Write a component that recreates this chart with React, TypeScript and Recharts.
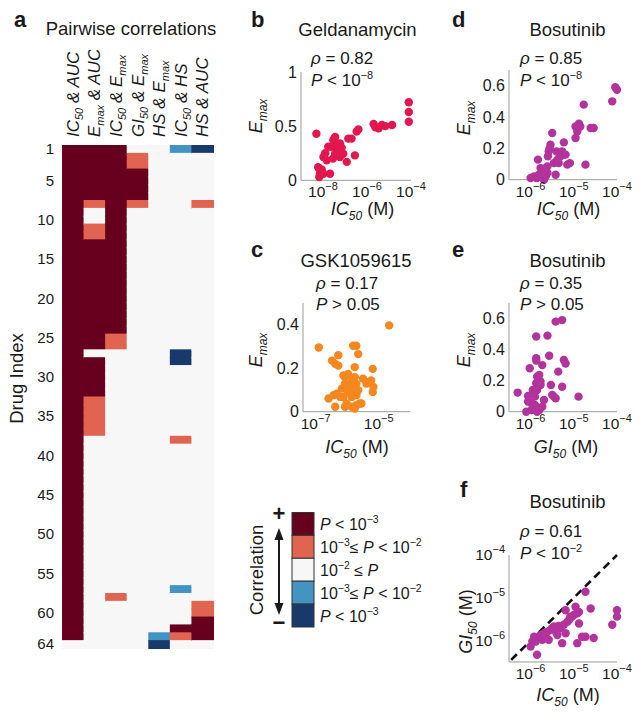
import { ScatterChart, Scatter, XAxis, YAxis, ReferenceLine } from 'recharts'

const FONT = '"Liberation Sans", Arial, Helvetica, sans-serif'
const INK = '#1a1a1a'
const AXIS = '#9a9a9a'

// ---- a: pairwise correlation map ----
const pairFirst = ['IC', 'E', 'IC', 'GI', 'HS', 'IC', 'HS']
const pairFirstSub = ['50', 'max', '50', '50', '', '50', '']
const pairSecond = ['AUC', 'AUC', 'E', 'E', 'E', 'HS', 'AUC']
const pairSecondSub = ['', '', 'max', 'max', 'max', '', '']
const drugCount = 64
const drugTicks = [1, 5, 10, 15, 20, 25, 30, 35, 40, 45, 50, 55, 60, 64]

// 2: + P<1e-3, 1: + 1e-3<=P<1e-2, 0: n.s., -1 / -2: same for negative correlation
const levelColor: Record<string, string> = {
  '2': '#67001f',
  '1': '#e0644f',
  '0': '#f7f7f7',
  '-1': '#4393c3',
  '-2': '#173a6b',
}
const legendLevels = [2, 1, 0, -1, -2]

// [first drug, last drug, level] for each pair column, rest is level 0
const heatRuns: number[][][] = [
  [[1, 63, 2]],
  [[1, 7, 2], [8, 8, 1], [11, 12, 1], [13, 26, 2], [28, 32, 2], [33, 37, 1]],
  [[1, 24, 2], [25, 26, 1], [58, 58, 1]],
  [[2, 3, 1], [4, 7, 2], [8, 8, 1]],
  [[63, 63, -1], [64, 64, -2]],
  [[1, 1, -1], [27, 28, -2], [38, 38, 1], [57, 57, -1], [62, 62, 2], [63, 63, 1]],
  [[1, 1, -2], [8, 8, 1], [59, 60, 1], [61, 63, 2]],
]

// ---- b: Geldanamycin, log10 IC50 vs Emax ----
const geldLogIC50 = [
  -8.3, -8.22, -8.14, -8.17, -8.06, -7.98, -7.98, -7.83, -7.68, -7.76, -7.6, -7.53, -7.45, -7.45,
  -7.38, -7.3, -7.23, -7.23, -7.08, -6.92, -6.85, -6.7, -6.55, -6.47, -6.39, -5.7, -5.62, -5.47,
  -5.32, -5.17, -4.86, -4.1, -4.1, -4.1, -7.5, -7.35, -7.15, -8.14, -7.9, -7.55,
]
const geldEmax = [
  0.43, 0.12, 0.06, 0.03, 0.1, 0.215, 0.06, 0.185, 0.06, 0.31, 0.31, 0.37, 0.4, 0.245,
  0.31, 0.28, 0.34, 0.215, 0.245, 0.17, 0.385, 0.385, 0.23, 0.45, 0.47, 0.52, 0.49, 0.48,
  0.51, 0.5, 0.51, 0.72, 0.63, 0.54, 0.38, 0.33, 0.3, 0.1, 0.25, 0.2,
]

// ---- c: GSK1059615 ----
const gskLogIC50 = [
  -6.9, -6.48, -6.38, -6.28, -6.28, -6.59, -6.43, -6.38, -6.33, -6.22, -6.17, -6.12, -6.07, -6.07,
  -6.02, -5.97, -5.91, -5.86, -5.86, -5.81, -5.81, -5.81, -5.71, -5.65, -5.76, -5.76, -5.71, -5.71,
  -5.65, -5.6, -5.55, -5.5, -5.39, -5.34, -5.24, -5.19, -5.19, -5.17, -5.86, -5.76, -5.71, -6.07,
  -6.02, -4.67, -5.97, -6.12,
]
const gskEmax = [
  0.295, 0.235, 0.22, 0.26, 0.212, 0.061, 0.076, 0.023, 0.083, 0.068, 0.106, 0.167, 0.129, 0.159,
  0.114, 0.091, 0.106, 0.136, 0.068, 0.099, 0.152, 0.303, 0.303, 0.265, 0.205, 0.159, 0.129, 0.076,
  0.099, 0.038, 0.038, 0.152, 0.129, 0.136, 0.144, 0.091, 0.197, 0.114, 0.023, 0.015, 0.03, 0.023,
  0.038, 0.397, 0.174, 0.068,
]

// ---- d: Bosutinib IC50 vs Emax ----
const bosLogIC50 = [
  -6.0, -5.92, -5.86, -5.81, -5.77, -5.69, -5.65, -5.61, -5.83, -5.77, -5.73, -5.69, -5.65, -5.61,
  -5.58, -5.6, -5.54, -5.5, -5.56, -5.46, -5.42, -5.4, -5.38, -5.35, -5.31, -5.27, -5.23, -5.19,
  -5.15, -5.09, -5.23, -4.96, -4.92, -4.88, -4.85, -4.96, -4.61, -4.54, -4.77, -4.73, -4.11, -4.04,
  -4.0,
]
const bosEmax = [
  0.011, 0.021, 0.011, 0.032, 0.021, 0.0, 0.021, 0.043, 0.128, 0.074, 0.064, 0.043, 0.074, 0.085,
  0.18, 0.149, 0.223, 0.298, 0.2, 0.106, 0.032, 0.18, 0.128, 0.106, 0.149, 0.18, 0.16, 0.16,
  0.096, 0.106, 0.238, 0.266, 0.308, 0.357, 0.34, 0.34, 0.33, 0.33, 0.479, 0.096, 0.5, 0.59,
  0.574,
]

// ---- e: Bosutinib GI50 vs Emax ----
const bosLogGI50 = [
  -6.3, -6.1, -6.06, -6.06, -5.98, -6.02, -5.87, -5.87, -5.87, -5.98, -5.9, -5.85, -5.8, -5.85,
  -5.87, -5.85, -5.8, -5.77, -5.77, -5.95, -5.9, -5.69, -5.73, -5.73, -5.61, -5.57, -5.53, -5.5,
  -5.46, -5.42, -5.42, -5.27, -5.23, -5.19, -5.36, -5.27, -4.89,
]
const bosEmaxGI = [
  0.123, 0.0, 0.065, 0.101, 0.011, 0.28, 0.484, 0.344, 0.33, 0.054, 0.043, 0.0, 0.011, 0.14,
  0.183, 0.226, 0.237, 0.194, 0.172, 0.14, 0.097, 0.075, 0.032, 0.3, 0.49, 0.36, 0.172, 0.108,
  0.097, 0.086, 0.58, 0.59, 0.333, 0.31, 0.258, 0.161, 0.097,
]

// ---- f: Bosutinib IC50 vs GI50 ----
const bosPairIC50 = [
  -6.0, -5.96, -5.85, -5.92, -5.88, -5.81, -5.77, -5.73, -5.69, -5.65, -5.61, -5.58, -5.54, -5.5,
  -5.46, -5.42, -5.38, -5.35, -5.31, -5.27, -5.19, -5.23, -5.15, -5.11, -5.08, -5.04, -5.0, -4.92,
  -4.88, -4.96, -4.73, -4.61, -4.92, -4.88, -4.81, -4.73, -4.54, -4.11, -4.0, -4.0, -5.19,
]
const bosPairGI50 = [
  -6.14, -6.02, -6.33, -5.91, -6.02, -5.94, -5.87, -5.98, -5.83, -5.91, -5.79, -5.98, -5.75, -5.71,
  -5.67, -5.79, -5.87, -5.66, -5.71, -6.06, -5.83, -5.63, -5.56, -5.52, -5.44, -5.44, -5.4, -5.36,
  -5.33, -5.21, -4.86, -5.25, -6.06, -5.6, -5.91, -5.91, -5.94, -5.63, -5.29, -5.44, -5.29,
]
const unityLine = [-6.45, -4]

const heatCells = heatRuns.flatMap((runs, col) =>
  Array.from({ length: drugCount }, (_, k) => {
    const drug = k + 1
    const run = runs.find((r) => drug >= r[0] && drug <= r[1])
    return { col, drug, level: run ? run[2] : 0 }
  })
)

function PairTick(props: any) {
  const { x, y, payload } = props
  const i = payload.value
  return (
    <text transform={`translate(${x + 6},${y}) rotate(-90)`} fontSize={17} fontStyle="italic" fill={INK}>
      {pairFirst[i]}
      {pairFirstSub[i] && <tspan dy={4} fontSize={11}>{pairFirstSub[i]}</tspan>}
      <tspan dy={pairFirstSub[i] ? -4 : 0}>{' & ' + pairSecond[i]}</tspan>
      {pairSecondSub[i] && <tspan dy={4} fontSize={11}>{pairSecondSub[i]}</tspan>}
    </text>
  )
}

function PowTick(props: any) {
  const { x, y, payload, textAnchor, vertical } = props
  const exp = Math.round(payload.value)
  return (
    <text x={x} y={y} dy={vertical ? '0.35em' : '0.71em'} textAnchor={textAnchor} fontSize={15.5} fill={INK}>
      10<tspan dy={-7} fontSize={11}>{'\u2212' + Math.abs(exp)}</tspan>
    </text>
  )
}

function Heatmap() {
  const box = { x: 62, y: 145, w: 151, h: 503 }
  const cw = box.w / pairFirst.length
  const ch = box.h / drugCount
  const top = 95
  const left = 40
  const bottom = 12
  return (
    <div style={{ position: 'absolute', left: box.x - left, top: box.y - top }}>
      <ScatterChart width={left + box.w + 2} height={top + box.h + bottom} margin={{ top: 0, right: 2, bottom, left: 0 }}>
        <XAxis
          xAxisId="pairs"
          orientation="top"
          type="number"
          dataKey="col"
          domain={[-0.5, 6.5]}
          ticks={[0, 1, 2, 3, 4, 5, 6]}
          interval={0}
          height={top}
          tick={<PairTick />}
          tickLine={false}
          axisLine={false}
        />
        <YAxis
          yAxisId="drugs"
          type="number"
          dataKey="drug"
          domain={[0.5, drugCount + 0.5]}
          reversed
          ticks={drugTicks}
          interval={0}
          width={left}
          tickLine={false}
          axisLine={false}
          tick={{ fontSize: 15, fill: INK }}
        />
        <Scatter
          xAxisId="pairs"
          yAxisId="drugs"
          data={heatCells}
          isAnimationActive={false}
          shape={(p: any) => (
            <rect x={p.cx - cw / 2} y={p.cy - ch / 2} width={cw + 1} height={ch + 1} fill={levelColor[String(p.payload.level)]} />
          )}
        />
        <ReferenceLine xAxisId="pairs" yAxisId="drugs" x={6.5} stroke={AXIS} />
        <ReferenceLine xAxisId="pairs" yAxisId="drugs" y={drugCount + 0.5} stroke={AXIS} />
      </ScatterChart>
    </div>
  )
}

type Box = { x: number; y: number; w: number; h: number }

function ScatterPanel({
  box, xs, ys, color, xDomain, yDomain, xTicks, yTicks, logY = false, children,
}: {
  box: Box
  xs: number[]
  ys: number[]
  color: string
  xDomain: number[]
  yDomain: number[]
  xTicks: number[]
  yTicks: number[]
  logY?: boolean
  children?: any
}) {
  const ml = 50
  const mt = 12
  const mr = 24
  const xh = 30
  const data = xs.map((x, i) => ({ x, y: ys[i] }))
  return (
    <div style={{ position: 'absolute', left: box.x - ml, top: box.y - mt }}>
      <ScatterChart width={ml + box.w + mr} height={mt + box.h + xh} margin={{ top: mt, right: mr, bottom: 0, left: 0 }}>
        <XAxis
          type="number"
          dataKey="x"
          domain={xDomain}
          ticks={xTicks}
          interval={0}
          height={xh}
          tick={<PowTick />}
          tickLine={false}
          tickSize={0}
          tickMargin={6}
          axisLine={{ stroke: AXIS }}
        />
        <YAxis
          type="number"
          dataKey="y"
          domain={yDomain}
          ticks={yTicks}
          interval={0}
          width={ml}
          tick={logY ? <PowTick vertical /> : { fontSize: 16, fill: INK }}
          tickLine={false}
          tickSize={0}
          tickMargin={4}
          axisLine={{ stroke: AXIS }}
        />
        <Scatter
          data={data}
          isAnimationActive={false}
          shape={(p: any) => <circle cx={p.cx} cy={p.cy} r={4.2} fill={color} />}
        />
        {children}
      </ScatterChart>
    </div>
  )
}

function EmaxLabel({ x, y }: { x: number; y: number }) {
  return (
    <text transform={`translate(${x},${y}) rotate(-90)`} textAnchor="middle" fontSize={18}>
      <tspan fontStyle="italic">E</tspan>
      <tspan dy={5} fontSize={12} fontStyle="italic">max</tspan>
    </text>
  )
}

function ConcLabel({ x, y, name, rotate = false }: { x: number; y: number; name: string; rotate?: boolean }) {
  return (
    <text transform={`translate(${x},${y})${rotate ? ' rotate(-90)' : ''}`} textAnchor="middle" fontSize={18}>
      <tspan fontStyle="italic">{name}</tspan>
      <tspan dy={5} fontSize={12} fontStyle="italic">50</tspan>
      <tspan dy={-5}> (M)</tspan>
    </text>
  )
}

function Stats({ x, y, rho, rel, exp, value }: { x: number; y: number; rho: string; rel: string; exp?: number; value?: string }) {
  return (
    <g fontSize={17}>
      <text x={x} y={y}>
        <tspan fontStyle="italic">ρ</tspan> = {rho}
      </text>
      <text x={x} y={y + 21.5}>
        <tspan fontStyle="italic">P</tspan>
        {' ' + rel + ' '}
        {exp !== undefined ? (
          <>
            10<tspan dy={-7} fontSize={11}>{'\u2212' + exp}</tspan>
          </>
        ) : (
          value
        )}
      </text>
    </g>
  )
}

const SUP = 7
const supStyle = { fontSize: 10.5 }

const legendLabels = [
  <>
    <tspan fontStyle="italic">P</tspan>{' < 10'}<tspan dy={-SUP} {...supStyle}>−3</tspan>
  </>,
  <>
    10<tspan dy={-SUP} {...supStyle}>−3</tspan>
    <tspan dy={SUP}>≤ </tspan><tspan fontStyle="italic">P</tspan>{' < 10'}<tspan dy={-SUP} {...supStyle}>−2</tspan>
  </>,
  <>
    10<tspan dy={-SUP} {...supStyle}>−2</tspan>
    <tspan dy={SUP}> ≤ </tspan><tspan fontStyle="italic">P</tspan>
  </>,
  <>
    10<tspan dy={-SUP} {...supStyle}>−3</tspan>
    <tspan dy={SUP}>≤ </tspan><tspan fontStyle="italic">P</tspan>{' < 10'}<tspan dy={-SUP} {...supStyle}>−2</tspan>
  </>,
  <>
    <tspan fontStyle="italic">P</tspan>{' < 10'}<tspan dy={-SUP} {...supStyle}>−3</tspan>
  </>,
]

function Overlay() {
  const lgTop = 512.5
  const lgH = 22.9
  return (
    <svg width={644} height={714} style={{ position: 'absolute', left: 0, top: 0, pointerEvents: 'none' }} fill={INK}>
      <g fontSize={22} fontWeight="bold">
        <text x={14} y={27}>a</text>
        <text x={251} y={27}>b</text>
        <text x={452} y={27}>d</text>
        <text x={251} y={257}>c</text>
        <text x={452} y={257}>e</text>
        <text x={460} y={497}>f</text>
      </g>
      <g fontSize={18.5} textAnchor="middle">
        <text x={131} y={35}>Pairwise correlations</text>
        <text x={357.5} y={36}>Geldanamycin</text>
        <text x={567.5} y={36}>Bosutinib</text>
        <text x={356} y={267}>GSK1059615</text>
        <text x={567.5} y={267}>Bosutinib</text>
        <text x={567.5} y={508}>Bosutinib</text>
        <text transform="translate(22.5,378.5) rotate(-90)">Drug Index</text>
      </g>

      <Stats x={311} y={64} rho="0.82" rel="<" exp={8} />
      <Stats x={520} y={64} rho="0.85" rel="<" exp={8} />
      <Stats x={316} y={288.5} rho="0.17" rel=">" value="0.05" />
      <Stats x={520} y={288.5} rho="0.35" rel=">" value="0.05" />
      <Stats x={520} y={537} rho="0.61" rel="<" exp={2} />

      <EmaxLabel x={262} y={116} />
      <EmaxLabel x={470} y={118} />
      <EmaxLabel x={262} y={350} />
      <EmaxLabel x={470} y={350} />
      <ConcLabel x={362.5} y={215} name="IC" />
      <ConcLabel x={568.5} y={215} name="IC" />
      <ConcLabel x={357} y={453} name="IC" />
      <ConcLabel x={566} y={453} name="GI" />
      <ConcLabel x={568} y={701} name="IC" />
      <ConcLabel x={471.5} y={621.5} name="GI" rotate />

      {/* legend */}
      {legendLevels.map((lv, i) => (
        <g key={lv}>
          <rect x={292} y={lgTop + i * lgH} width={22} height={lgH} fill={levelColor[String(lv)]} stroke="#333" strokeWidth={1} />
          <text x={320} y={lgTop + i * lgH + lgH / 2 + 6} fontSize={16}>
            {legendLabels[i]}
          </text>
        </g>
      ))}
      <text x={279} y={521} fontSize={22} fontWeight="bold" textAnchor="middle">+</text>
      <text x={279} y={630} fontSize={22} fontWeight="bold" textAnchor="middle">{'\u2212'}</text>
      <line x1={279} y1={536} x2={279} y2={607} stroke={INK} strokeWidth={2} />
      <polygon points="279,528 274.5,540 283.5,540" />
      <polygon points="279,615 274.5,603 283.5,603" />
      <text transform="translate(263,570) rotate(-90)" textAnchor="middle" fontSize={18.5}>Correlation</text>
    </svg>
  )
}

export default function App() {
  return (
    <div
      style={{
        position: 'absolute',
        left: 0,
        top: 0,
        width: 644,
        height: 714,
        background: '#fff',
        fontFamily: FONT,
        color: INK,
        overflow: 'hidden',
      }}
    >
      <Heatmap />
      <ScatterPanel
        box={{ x: 301, y: 71.7, w: 110, h: 108.3 }}
        xs={geldLogIC50}
        ys={geldEmax}
        color="#e3174f"
        xDomain={[-9, -4]}
        yDomain={[0, 1]}
        xTicks={[-8, -6, -4]}
        yTicks={[0, 0.5, 1]}
      />
      <ScatterPanel
        box={{ x: 302.7, y: 303, w: 107.3, h: 108.7 }}
        xs={gskLogIC50}
        ys={gskEmax}
        color="#f5871f"
        xDomain={[-7.4, -4]}
        yDomain={[0, 0.5]}
        xTicks={[-7, -5]}
        yTicks={[0, 0.2, 0.4]}
      />
      <ScatterPanel
        box={{ x: 509, y: 70.3, w: 108, h: 109.7 }}
        xs={bosLogIC50}
        ys={bosEmax}
        color="#b3339d"
        xDomain={[-6.5, -4]}
        yDomain={[0, 0.7]}
        xTicks={[-6, -5, -4]}
        yTicks={[0, 0.2, 0.4, 0.6]}
      />
      <ScatterPanel
        box={{ x: 509, y: 302.8, w: 108, h: 108.7 }}
        xs={bosLogGI50}
        ys={bosEmaxGI}
        color="#b3339d"
        xDomain={[-6.5, -4]}
        yDomain={[0, 0.7]}
        xTicks={[-6, -5, -4]}
        yTicks={[0, 0.2, 0.4, 0.6]}
      />
      <ScatterPanel
        box={{ x: 509, y: 555, w: 108, h: 107 }}
        xs={bosPairIC50}
        ys={bosPairGI50}
        color="#b3339d"
        xDomain={[-6.5, -4]}
        yDomain={[-6.5, -4]}
        xTicks={[-6, -5, -4]}
        yTicks={[-6, -5, -4]}
        logY
      >
        <ReferenceLine
          segment={[
            { x: unityLine[0], y: unityLine[0] },
            { x: unityLine[1], y: unityLine[1] },
          ]}
          stroke="#111"
          strokeWidth={2.6}
          strokeDasharray="8 5"
        />
      </ScatterPanel>
      <Overlay />
    </div>
  )
}
